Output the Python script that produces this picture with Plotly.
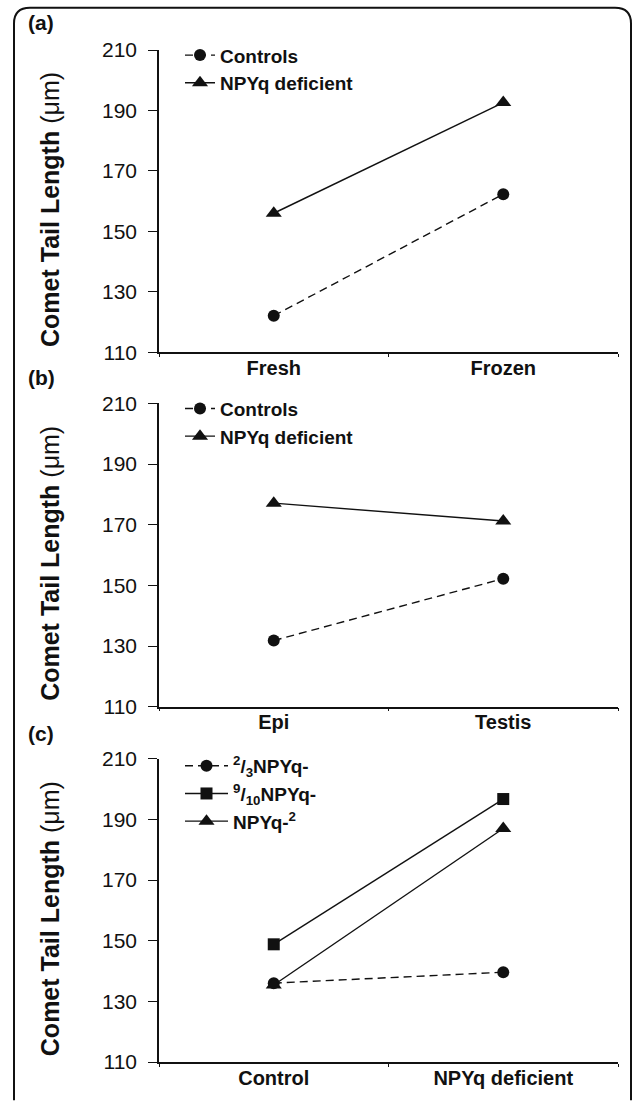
import plotly.graph_objects as go

# ---------------- data ----------------
cats_a = ["Fresh", "Frozen"]
controls_a = [122.1, 162.3]
npyq_a = [156.0, 192.6]

cats_b = ["Epi", "Testis"]
controls_b = [131.8, 152.2]
npyq_b = [177.1, 171.2]

cats_c = ["Control", "NPYq deficient"]
two_thirds_c = [136.0, 139.6]
nine_tenths_c = [148.8, 196.7]
npyq2_c = [135.4, 187.0]

y_ticks = [110, 130, 150, 170, 190, 210]
y_title = "<b>Comet Tail Length </b>(μm)"

# ---------------- layout geometry (pixels) ----------------
W, H = 633, 1101
ML, MR, MT, MB = 159, 15, 50, 20
PW = W - ML - MR
PH = H - MT - MB


def px2x(px):
    return (px - ML) / PW


def px2y(py):
    return (H - MB - py) / PH


panels = [(50, 358), (410, 719), (772, 1081)]  # top, bottom px
domains = [[px2y(b), px2y(t)] for t, b in panels]

FONT = "Liberation Sans, Arial, sans-serif"
INK = "#111111"
DASH = "8px,5px"

fig = go.Figure()


def add(x, y, name, symbol, dash, xa, ya, legend, size):
    fig.add_trace(go.Scatter(
        x=x, y=y, name=name, mode="lines+markers",
        line=dict(color=INK, width=1.4, dash=dash),
        marker=dict(symbol=symbol, size=size, color=INK),
        xaxis=xa, yaxis=ya, legend=legend,
    ))


add(cats_a, controls_a, "Controls", "circle", DASH, "x", "y", "legend", 12)
add(cats_a, npyq_a, "NPYq deficient", "triangle-up", "solid", "x", "y", "legend", 14)
add(cats_b, controls_b, "Controls", "circle", DASH, "x2", "y2", "legend2", 12)
add(cats_b, npyq_b, "NPYq deficient", "triangle-up", "solid", "x2", "y2", "legend2", 14)
add(cats_c, two_thirds_c, "<sup>2</sup>/<sub>3</sub>NPYq-", "circle", DASH, "x3", "y3", "legend3", 12)
add(cats_c, nine_tenths_c, "<sup>9</sup>/<sub>10</sub>NPYq-", "square", "solid", "x3", "y3", "legend3", 12)
add(cats_c, npyq2_c, "NPYq-<sup>2</sup>", "triangle-up", "solid", "x3", "y3", "legend3", 14)

xaxis_common = dict(
    type="category", range=[-0.5, 1.5], showline=True, linecolor=INK, linewidth=1.5,
    ticks="outside", tickson="boundaries", ticklen=3, tickwidth=1.2, tickcolor=INK,
    showgrid=False, zeroline=False, ticklabelstandoff=-3,
    tickfont=dict(family=FONT, size=20, color=INK, weight="bold"),
)
yaxis_common = dict(
    range=[110, 210], tickvals=y_ticks, showline=True, linecolor=INK, linewidth=1.5,
    ticks="outside", ticklen=9, tickwidth=1.3, tickcolor=INK,
    showgrid=False, zeroline=False, ticklabelstandoff=7,
    tickfont=dict(family=FONT, size=21, color=INK),
)

layout = dict(
    width=W, height=H, margin=dict(l=ML, r=MR, t=MT, b=MB),
    paper_bgcolor="white", plot_bgcolor="white",
)
for i, (dom, cats) in enumerate(zip(domains, [cats_a, cats_b, cats_c])):
    sfx = "" if i == 0 else str(i + 1)
    layout["xaxis" + sfx] = dict(xaxis_common, anchor="y" + sfx, domain=[0, 1],
                                 categoryorder="array", categoryarray=cats)
    layout["yaxis" + sfx] = dict(yaxis_common, anchor="x" + sfx, domain=dom)

leg_common = dict(
    xanchor="left", yanchor="top", bgcolor="rgba(0,0,0,0)",
    font=dict(family=FONT, size=19, color=INK, weight="bold"),
    tracegroupgap=0,
)
layout["legend"] = dict(leg_common, x=px2x(180), y=px2y(36))
layout["legend2"] = dict(leg_common, x=px2x(180), y=px2y(396))
layout["legend3"] = dict(leg_common, x=px2x(180), y=px2y(760), itemwidth=43)

annotations = []
for label, py in zip(["(a)", "(b)", "(c)"], [22, 384, 746]):
    annotations.append(dict(
        text="<b>" + label + "</b>", x=px2x(41), y=px2y(py), xref="paper", yref="paper",
        xanchor="center", yanchor="middle", showarrow=False,
        font=dict(family=FONT, size=21, color=INK),
    ))
for t, b in panels:
    annotations.append(dict(
        text=y_title, x=px2x(50), y=px2y((t + b) / 2 + 9), xref="paper", yref="paper",
        xanchor="center", yanchor="middle", showarrow=False, textangle=-90,
        font=dict(family=FONT, size=25, color=INK),
    ))
layout["annotations"] = annotations

# rounded frame around the whole figure (extends past right/bottom edges)
L, T, R, B, r = 14, 7, 631, 1120, 16
path = (f"M {px2x(L)},{px2y(B)} L {px2x(L)},{px2y(T + r)} "
        f"Q {px2x(L)},{px2y(T)} {px2x(L + r)},{px2y(T)} "
        f"L {px2x(R - r)},{px2y(T)} Q {px2x(R)},{px2y(T)} {px2x(R)},{px2y(T + r)} "
        f"L {px2x(R)},{px2y(B)}")
layout["shapes"] = [dict(type="path", path=path, xref="paper", yref="paper",
                         line=dict(color=INK, width=2))]

fig.update_layout(**layout)
fig.write_html("out.html", config={"displayModeBar": False},
               post_script="document.body.style.margin='0';document.body.style.overflow='hidden';")
